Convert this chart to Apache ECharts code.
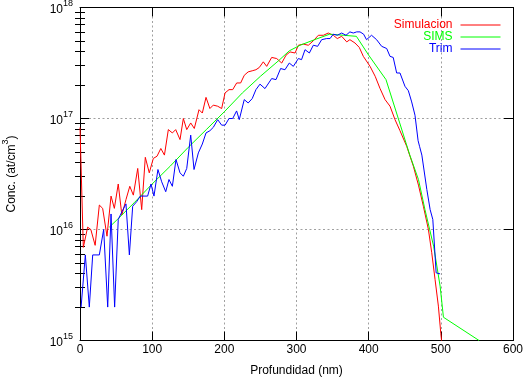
<!DOCTYPE html>
<html><head><meta charset="utf-8">
<script src="https://cdn.jsdelivr.net/npm/echarts@6/dist/echarts.min.js"></script>
<style>html,body{margin:0;padding:0;background:#fff}#c{width:524px;height:379px}</style>
</head><body><div id="c"></div>
<script>
// Simulacion (red)
const simDepth = [0,4.6,10.6,15,21,26.8,31.4,37.4,43,47.6,53,58,63.7,69,73.9,80,85.5,90.5,96,101.6,106.7,112,117,122.4,128,132.6,138.6,143.2,147.9,153.4,158.4,164.9,169.5,174.6,180,184.7,190.8,196.3,201,206.5,211.6,217.1,222.6,227.6,233,238.6,243.8,248.4,254,258.7,265.6,272.5,279.5,285.5,291,298,302.6,309.5,316.4,323.3,330.3,337.2,344,351,356.5,362.6,369.6,374,381,387,392.6,401.9,409,415.8,422.7,429.6,436.5,443.4,452.7,461.9,469,475.8,482.8,487.4,492,496.6,500,501];
const simConc = [8.3e16,6.9e15,1.05e16,1.0e16,7.2e15,1.66e16,1.55e16,8.7e15,2.0e16,1.55e16,2.57e16,1.35e16,1.86e16,2.45e16,2.04e16,3.55e16,1.51e16,4.47e16,3.24e16,4.37e16,4.57e16,5.37e16,4.68e16,7.94e16,7.41e16,7.94e16,6.46e16,1.0e17,7.94e16,9.12e16,8.13e16,1.2e17,1.12e17,1.55e17,1.23e17,1.32e17,1.29e17,1.23e17,1.7e17,1.82e17,1.82e17,2.09e17,2.09e17,2.45e17,2.63e17,2.69e17,2.75e17,2.88e17,3.24e17,2.95e17,3.55e17,3.47e17,3.16e17,3.72e17,3.98e17,3.89e17,4.57e17,4.68e17,4.57e17,5.01e17,5.62e17,5.62e17,5.89e17,5.62e17,5.25e17,5.5e17,4.9e17,5.13e17,4.79e17,4.37e17,3.63e17,2.95e17,2.4e17,1.86e17,1.48e17,1.29e17,9.77e16,7.76e16,5.62e16,3.72e16,2.51e16,1.62e16,1.0e16,6.17e15,3.55e15,2.04e15,1.15e15,1.0e15];
// SIMS (green)
const simsDepth = [40.6,50,75,100,125,150,175,200,225,250,275,290,305,325,346,365,383,400,424,443,457,469,478,490,499,503.6,553];
const simsConc = [1.05e16,1.2e16,1.74e16,2.57e16,3.72e16,5.5e16,7.94e16,1.15e17,1.7e17,2.4e17,3.31e17,4.07e17,4.57e17,5.13e17,5.75e17,5.62e17,5.5e17,3.72e17,2.24e17,9.12e16,4.68e16,2.82e16,1.51e16,7.08e15,3.09e15,1.62e15,1.0e15];
// Trim (blue)
const trimDepth = [1.5,7.4,12.9,17.6,26.8,32.8,38.4,43,48,53,58.2,63.7,68.4,73,78.5,83.6,93.7,98.4,102.5,108,113.2,118.8,123.3,128,133,138.6,143.2,147.9,153.4,158,164,169.5,174.6,180,184.7,190.8,196.3,201,206.5,211.6,217,220.7,227.6,233,238.6,243.8,249.4,256.3,265.6,271.6,278,284,290,295.6,302.6,307,311.8,317.8,323.3,329.3,334.9,341.8,346.5,351,356.5,362.6,368.6,374,378.7,383.4,388,393,397,404,411,418,425,429.6,434,438.8,443.4,450.3,455,459.6,464.2,468.5,470.5,473.7,480.6,485.2,488.9,493.5,499];
const trimConc = [2.0e15,5.9e15,2.0e15,5.9e15,5.9e15,1.0e16,2.0e15,1.38e16,2.0e15,1.23e16,1.45e16,1.7e16,5.9e15,1.62e16,1.78e16,2.0e16,2.0e16,2.57e16,2.0e16,3.47e16,2.69e16,2.19e16,2.82e16,2.45e16,4.27e16,3.24e16,3.02e16,3.55e16,7.08e16,3.47e16,4.9e16,5.89e16,7.41e16,7.76e16,8.32e16,9.77e16,8.71e16,8.71e16,1.0e17,1.0e17,1.17e17,9.77e16,1.48e17,1.38e17,1.51e17,1.82e17,2.04e17,1.86e17,2.29e17,2.24e17,2.82e17,2.75e17,3.16e17,2.95e17,3.47e17,3.39e17,4.17e17,3.89e17,4.57e17,4.47e17,5.13e17,5.25e17,5.25e17,5.75e17,5.62e17,5.89e17,5.62e17,6.03e17,5.89e17,6.03e17,6.03e17,5.75e17,5.13e17,5.62e17,5.13e17,4.47e17,4.27e17,3.63e17,3.55e17,2.57e17,2.57e17,1.95e17,1.78e17,1.41e17,1.07e17,6.31e16,5.62e16,4.68e16,2.29e16,1.51e16,1.23e16,4.07e15,3.98e15];

const seriesNames = ['Simulacion','SIMS','Trim'];
const seriesColors = ['#ff0000','#00ff00','#0000ff'];
const xTicks = [0,100,200,300,400,500,600];
const yTickExp = ['15','16','17','18'];
const yMinorMult = [2,3,4,5,6,7,8,9];

const FONT = 'Liberation Sans';
const zip = (a,b) => a.map((v,i)=>[v,b[i]]);
const minorVals = [];
[15,16,17].forEach(e => yMinorMult.forEach(k => minorVals.push(e + Math.log10(k))));

const chart = echarts.init(document.getElementById('c'), null, {renderer:'canvas'});
const grid = {left:80, right:11, top:7.5, bottom:38.5, containLabel:false, outerBoundsMode:'none'};
const lineAx = {show:true, onZero:false, lineStyle:{color:'#000', width:1}};
const gridLine = {show:true, lineStyle:{color:'#a0a0a0', type:[2,2.5], width:1}};
const supRich = { b:{fontSize:12, fontFamily:FONT, color:'#000', padding:[5,0,0,0]},
                  s:{fontSize:9, fontFamily:FONT, color:'#000', verticalAlign:'top'} };
chart.setOption({
  animation:false,
  backgroundColor:'#fff',
  grid: grid,
  legend: {
    orient:'vertical', align:'right', right:23, top:19, padding:0, itemGap:0,
    itemWidth:40, itemHeight:12, selectedMode:false,
    itemStyle:{opacity:0}, lineStyle:{width:1},
    textStyle:{fontSize:12, fontFamily:FONT, padding:[0,3,0,0]},
    data: seriesNames.map((n,i)=>({name:n, textStyle:{color:seriesColors[i]}}))
  },
  xAxis: [
    {type:'value', min:0, max:600, interval:100, position:'bottom',
     axisLine:lineAx, axisTick:{inside:true, length:9, lineStyle:{color:'#000'}},
     axisLabel:{fontSize:12, color:'#000', fontFamily:FONT, margin:3,
       formatter:(v)=> xTicks.indexOf(v) >= 0 ? String(v) : ''},
     splitLine:gridLine,
     name:'Profundidad (nm)', nameLocation:'middle', nameGap:24,
     nameTextStyle:{fontSize:12, color:'#000', fontFamily:FONT}},
    {type:'value', min:0, max:600, interval:100, position:'top',
     axisLine:lineAx, axisTick:{inside:true, length:9, lineStyle:{color:'#000'}},
     axisLabel:{show:false}, splitLine:{show:false}}
  ],
  yAxis: [
    {type:'log', logBase:10, min:1e15, max:1e18, position:'left',
     axisLine:lineAx, axisTick:{inside:true, length:9, lineStyle:{color:'#000'}},
     minorTick:{show:false},
     axisLabel:{margin:7, color:'#000',
       formatter:(v)=>{ const e = String(Math.round(Math.log10(v)));
                        return yTickExp.indexOf(e) >= 0 ? '{b|10}{s|' + e + '}' : ''; },
       rich:supRich},
     splitLine:gridLine,
     name:'{b|Conc. (at/cm}{s|3}{b|)}', nameLocation:'middle', nameGap:62,
     nameTextStyle:{color:'#000', rich:supRich}},
    {type:'log', logBase:10, min:1e15, max:1e18, position:'right',
     axisLine:lineAx, axisTick:{inside:true, length:9, lineStyle:{color:'#000'}},
     axisLabel:{show:false}, splitLine:{show:false}},
    {type:'value', min:15, max:18, position:'left', show:true,
     axisLine:{show:false}, axisLabel:{show:false}, splitLine:{show:false},
     axisTick:{show:true, inside:true, length:5, customValues:minorVals, lineStyle:{color:'#000'}}},
    {type:'value', min:15, max:18, position:'right', show:true,
     axisLine:{show:false}, axisLabel:{show:false}, splitLine:{show:false},
     axisTick:{show:true, inside:true, length:5, customValues:minorVals, lineStyle:{color:'#000'}}}
  ],
  series: [
    {name:seriesNames[0], type:'line', xAxisIndex:0, yAxisIndex:0, data:zip(simDepth, simConc),
     showSymbol:false, symbol:'circle', color:seriesColors[0], lineStyle:{width:1, color:seriesColors[0]}, z:3},
    {name:seriesNames[1], type:'line', xAxisIndex:0, yAxisIndex:0, data:zip(simsDepth, simsConc),
     showSymbol:false, symbol:'circle', color:seriesColors[1], lineStyle:{width:1, color:seriesColors[1]}, z:4},
    {name:seriesNames[2], type:'line', xAxisIndex:0, yAxisIndex:0, data:zip(trimDepth, trimConc),
     showSymbol:false, symbol:'circle', color:seriesColors[2], lineStyle:{width:1, color:seriesColors[2]}, z:5}
  ]
});
</script></body></html>
